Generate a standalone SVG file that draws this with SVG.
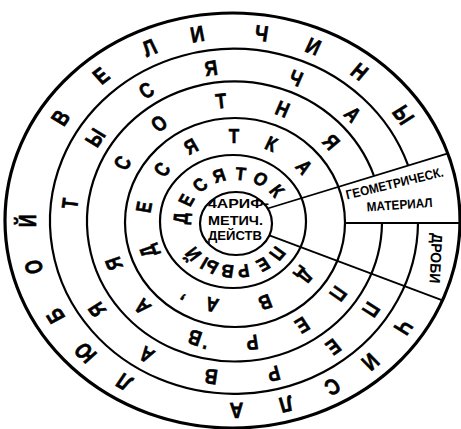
<svg xmlns="http://www.w3.org/2000/svg" width="461" height="429" viewBox="0 0 461 429">
<style>
.c{fill:none;stroke:#000;stroke-width:2.2}
.o{stroke-width:3.2}
.ln{stroke:#000;stroke-width:1.8;fill:none}
text{font-family:"Liberation Sans",Arial,sans-serif;font-weight:bold;fill:#000}
.r text{text-anchor:middle;dominant-baseline:central;stroke:#000;stroke-width:0.6}
.r text.p{dominant-baseline:auto}
</style>
<rect width="461" height="429" fill="#fff"/>
<g id="circles">
<ellipse class="c" cx="236" cy="223.5" rx="36" ry="31.5"/>
<ellipse class="c" cx="233" cy="221.5" rx="73" ry="66.5"/>
<ellipse class="c" cx="235" cy="222.5" rx="110" ry="104.5"/>
<path class="c" d="M382,223 A147.5,140 0 1 1 374,176"/>
<path class="c" d="M418,223 A184,172.5 0 1 1 408,165.2"/>
<ellipse class="c o" cx="232.5" cy="220.5" rx="227.5" ry="207.5"/>
</g>
<g id="connectors">
<line class="ln" x1="267.6" y1="208.5" x2="448" y2="153.3"/>
<line class="ln" x1="345" y1="223" x2="460" y2="223"/>
<line class="ln" x1="269.4" y1="235.4" x2="442.5" y2="300.3"/>
</g>
<g id="ring6" class="r" font-size="22" transform="translate(233,221) scale(1.083,1)">
<text transform="rotate(34) translate(190) rotate(90) scale(.8,1)">Ч</text>
<text transform="rotate(48) translate(190) rotate(90) scale(.8,1)">И</text>
<text transform="rotate(61) translate(190) rotate(90) scale(.8,1)">С</text>
<text transform="rotate(75) translate(190) rotate(90) scale(.8,1)">Л</text>
<text transform="rotate(89) translate(190) rotate(90) scale(.8,1)">А</text>
<text transform="rotate(122) translate(190) rotate(90) scale(.8,1)">Л</text>
<text transform="rotate(136) translate(190) rotate(90) scale(.8,1)">Ю</text>
<text transform="rotate(150) translate(190) rotate(90) scale(.8,1)">Б</text>
<text transform="rotate(166) translate(190) rotate(90) scale(.8,1)">О</text>
<text transform="rotate(180) translate(190) rotate(90) scale(.8,1)">Й</text>
<text transform="rotate(213) translate(190) rotate(90) scale(.8,1)">В</text>
<text transform="rotate(230) translate(190) rotate(90) scale(.8,1)">Е</text>
<text transform="rotate(246) translate(190) rotate(90) scale(.8,1)">Л</text>
<text transform="rotate(260) translate(190) rotate(90) scale(.8,1)">И</text>
<text transform="rotate(278) translate(190) rotate(90) scale(.8,1)">Ч</text>
<text transform="rotate(293) translate(190) rotate(90) scale(.8,1)">И</text>
<text transform="rotate(308) translate(190) rotate(90) scale(.8,1)">Н</text>
<text transform="rotate(326) translate(190) rotate(90) scale(.8,1)">Ы</text>
</g>
<g id="ring5" class="r" font-size="21" transform="translate(234,222.5) scale(1.061,1)">
<text transform="rotate(34) translate(156) rotate(90) scale(.8,1)">П</text>
<text transform="rotate(53) translate(156) rotate(90) scale(.8,1)">Е</text>
<text transform="rotate(76) translate(156) rotate(90) scale(.8,1)">Р</text>
<text transform="rotate(98) translate(156) rotate(90) scale(.8,1)">В</text>
<text transform="rotate(122) translate(156) rotate(90) scale(.8,1)">А</text>
<text transform="rotate(146) translate(156) rotate(90) scale(.8,1)">Я</text>
<text transform="rotate(187) translate(156) rotate(90) scale(.8,1)">Т</text>
<text transform="rotate(213) translate(156) rotate(90) scale(.8,1)">Ы</text>
<text transform="rotate(238) translate(156) rotate(90) scale(.8,1)">С</text>
<text transform="rotate(262) translate(156) rotate(90) scale(.8,1)">Я</text>
<text transform="rotate(292) translate(156) rotate(90) scale(.8,1)">Ч</text>
<text transform="rotate(316) translate(156) rotate(90) scale(.8,1)">А</text>
</g>
<g id="ring4" class="r" font-size="21" transform="translate(234.5,222) scale(1.053,1)">
<text transform="rotate(36) translate(122) rotate(90) scale(.8,1)">П</text>
<text transform="rotate(58) translate(122) rotate(90) scale(.8,1)">Е</text>
<text transform="rotate(82) translate(122) rotate(90) scale(.8,1)">Р</text>
<text class="p" transform="rotate(102.8) translate(127) rotate(90) scale(.8,1)">.</text>
<text transform="rotate(108) translate(122) rotate(90) scale(.8,1)">В</text>
<text transform="rotate(136) translate(122) rotate(90) scale(.8,1)">А</text>
<text transform="rotate(160) translate(122) rotate(90) scale(.8,1)">Я</text>
<text transform="rotate(209) translate(122) rotate(90) scale(.8,1)">С</text>
<text transform="rotate(234) translate(122) rotate(90) scale(.8,1)">О</text>
<text transform="rotate(264) translate(122) rotate(90) scale(.8,1)">Т</text>
<text transform="rotate(292) translate(122) rotate(90) scale(.8,1)">Н</text>
<text transform="rotate(319) translate(122) rotate(90) scale(.8,1)">Я</text>
</g>
<g id="ring3" class="r" font-size="20" transform="translate(234,222) scale(1.07,1)">
<text transform="rotate(39) translate(85.5) rotate(90) scale(.8,1)">Д</text>
<text transform="rotate(70) translate(85.5) rotate(90) scale(.8,1)">В</text>
<text transform="rotate(104) translate(85.5) rotate(90) scale(.8,1)">А</text>
<text class="p" transform="rotate(122.4) translate(89) rotate(90) scale(.8,1)">,</text>
<text transform="rotate(160) translate(85.5) rotate(90) scale(.8,1)">Д</text>
<text transform="rotate(190) translate(85.5) rotate(90) scale(.8,1)">Е</text>
<text transform="rotate(218) translate(85.5) rotate(90) scale(.8,1)">С</text>
<text transform="rotate(242) translate(85.5) rotate(90) scale(.8,1)">Я</text>
<text transform="rotate(270) translate(85.5) rotate(90) scale(.8,1)">Т</text>
<text transform="rotate(294) translate(85.5) rotate(90) scale(.8,1)">К</text>
<text transform="rotate(320) translate(85.5) rotate(90) scale(.8,1)">А</text>
</g>
<g id="ring2" class="r" font-size="18" transform="translate(235,222.5) scale(1.112,1)">
<text transform="rotate(39) translate(49) rotate(90) scale(.85,1)">П</text>
<text transform="rotate(59) translate(49) rotate(90) scale(.85,1)">Е</text>
<text transform="rotate(81) translate(49) rotate(90) scale(.85,1)">Р</text>
<text transform="rotate(98) translate(49) rotate(90) scale(.85,1)">В</text>
<text transform="rotate(118) translate(49) rotate(90) scale(.85,1)">Ы</text>
<text transform="rotate(140) translate(49) rotate(90) scale(.85,1)">Й</text>
<text transform="rotate(185) translate(49) rotate(90) scale(.85,1)">Д</text>
<text transform="rotate(207) translate(49) rotate(90) scale(.85,1)">Е</text>
<text transform="rotate(230) translate(49) rotate(90) scale(.85,1)">С</text>
<text transform="rotate(253) translate(49) rotate(90) scale(.85,1)">Я</text>
<text transform="rotate(276) translate(49) rotate(90) scale(.85,1)">Т</text>
<text transform="rotate(298) translate(49) rotate(90) scale(.85,1)">О</text>
<text transform="rotate(320) translate(49) rotate(90) scale(.85,1)">К</text>
</g>
<g id="center" font-size="13.5">
<text x="208" y="208" textLength="61" lengthAdjust="spacingAndGlyphs">4АРИФ-</text>
<text x="208" y="224.5" textLength="55" lengthAdjust="spacingAndGlyphs">МЕТИЧ.</text>
<text x="208" y="240" textLength="54" lengthAdjust="spacingAndGlyphs">ДЕЙСТВ</text>
</g>
<g id="geometry" font-size="13">
<text transform="translate(347,199.5) rotate(-13.5)" textLength="100" lengthAdjust="spacingAndGlyphs">ГЕОМЕТРИЧЕСК.</text>
<text transform="translate(367,211.5) rotate(-4)" textLength="66" lengthAdjust="spacingAndGlyphs">МАТЕРИАЛ</text>
</g>
<g id="fractions" font-size="15">
<text transform="translate(432,233) rotate(93)" textLength="50" lengthAdjust="spacingAndGlyphs">ДРОБИ</text>
</g>
</svg>
